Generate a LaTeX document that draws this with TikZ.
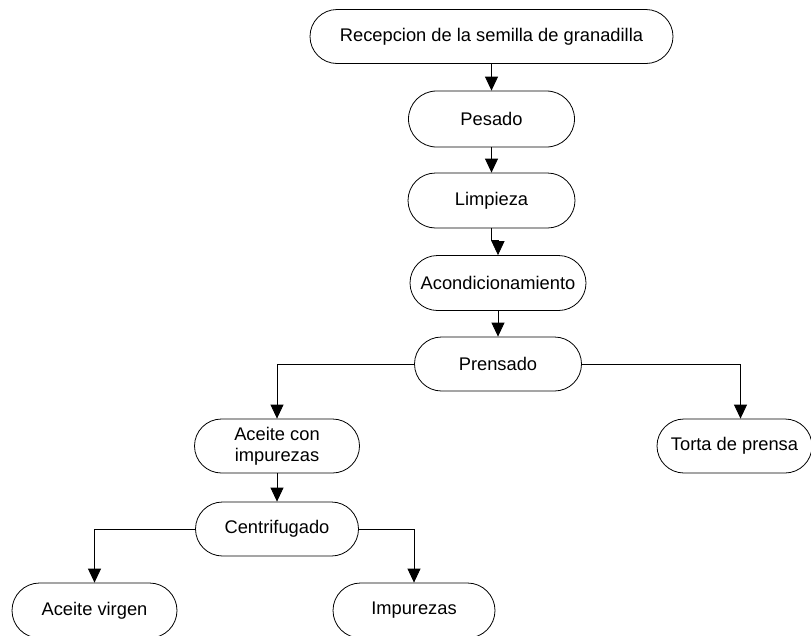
\documentclass[tikz,border=0pt]{standalone}
\usepackage{fontspec}
\setmainfont{Liberation Sans}
\usetikzlibrary{shapes.misc,arrows.meta}
\tikzset{
  etapa/.style={draw,rounded rectangle,line width=0.8pt,inner sep=0pt,
    minimum height=54pt,font=\fontsize{18.3}{21}\selectfont,align=center},
  flecha/.style={line width=0.8pt,-{Triangle[width=13pt,length=14pt]}}
}
\begin{document}
\begin{tikzpicture}[x=1pt,y=-1pt]
  \useasboundingbox (0,0) rectangle (811,635);

  \node[etapa,minimum width=363pt] (rec) at (491.5,36.5){Recepcion de la semilla de granadilla};
  \node[etapa,minimum width=166pt,minimum height=56pt] (pes) at (491.5,119){Pesado};
  \node[etapa,minimum width=167pt,minimum height=55pt] (lim) at (491.5,200.5){Limpieza};
  \node[etapa,minimum width=176pt,minimum height=55pt] (aco) at (498,283){Acondicionamiento};
  \node[etapa,minimum width=167pt] (pre) at (498,364){Prensado};
  \node[etapa,minimum width=165pt] (ace) at (277,446){Aceite con\\impurezas};
  \node[etapa,minimum width=155pt] (tor) at (734.5,446){Torta de prensa};
  \node[etapa,minimum width=163pt] (cen) at (277,529){Centrifugado};
  \node[etapa,minimum width=165pt,minimum height=55pt] (vir) at (94.5,610.5){Aceite virgen};
  \node[etapa,minimum width=162pt,minimum height=55pt] (imp) at (414,610.5){Impurezas};

  \foreach \a/\b in {rec/pes,pes/lim,aco/pre,ace/cen}{
    \draw[flecha] (\a.south) -- (\b.north);
  }
  \draw[flecha] (lim.south) -- ++(0,12) -| (aco.north);
  \draw[flecha] (pre.west) -| (ace.north);
  \draw[flecha] (pre.east) -| ([xshift=6pt]tor.north);
  \draw[flecha] (cen.west) -| (vir.north);
  \draw[flecha] (cen.east) -| (imp.north);
\end{tikzpicture}
\end{document}
